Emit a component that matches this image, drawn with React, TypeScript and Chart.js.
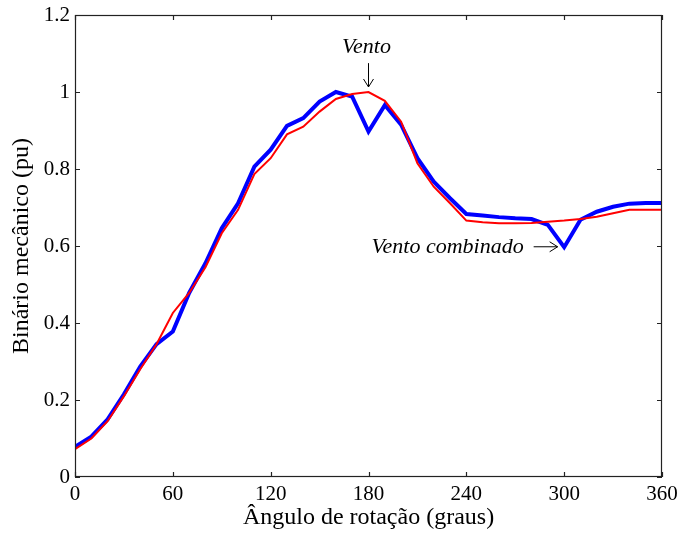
import React, { useEffect, useRef } from "react";
import { Chart, registerables } from "chart.js";

Chart.register(...registerables);

const angles = [0, 10, 20, 30, 40, 50, 60, 70, 80, 90, 100, 110, 120, 130, 140, 150, 160, 170, 180, 190, 200, 210, 220, 230, 240, 250, 260, 270, 280, 290, 300, 310, 320, 330, 340, 350, 360];
const combinado = [0.078, 0.105, 0.15, 0.215, 0.287, 0.345, 0.378, 0.478, 0.555, 0.646, 0.711, 0.806, 0.85, 0.912, 0.932, 0.975, 1.0, 0.988, 0.897, 0.966, 0.915, 0.828, 0.767, 0.724, 0.683, 0.679, 0.675, 0.672, 0.67, 0.655, 0.597, 0.668, 0.689, 0.702, 0.71, 0.712, 0.712];
const vento = [0.072, 0.1, 0.145, 0.21, 0.28, 0.345, 0.426, 0.478, 0.545, 0.633, 0.694, 0.787, 0.828, 0.89, 0.91, 0.949, 0.982, 0.995, 1.0, 0.977, 0.923, 0.815, 0.754, 0.711, 0.666, 0.662, 0.659, 0.659, 0.66, 0.663, 0.666, 0.67, 0.676, 0.685, 0.694, 0.694, 0.694];
const xTicks = [0, 60, 120, 180, 240, 300, 360];
const yTicks = [0, 0.2, 0.4, 0.6, 0.8, 1.0, 1.2];

const FONT = "'Liberation Serif', 'DejaVu Serif', serif";

const boxPlugin = {
  id: "boxTicks",
  afterDraw(chart: any) {
    const { ctx, chartArea: a, scales } = chart;
    const x = scales.x, y = scales.y;
    ctx.save();
    ctx.strokeStyle = "#222";
    ctx.lineWidth = 1.2;
    ctx.strokeRect(a.left + 0.5, a.top + 0.5, a.right - a.left - 1, a.bottom - a.top - 1);
    const L = 5;
    ctx.beginPath();
    for (const t of xTicks) {
      const px = Math.round(x.getPixelForValue(t)) + 0.5;
      ctx.moveTo(px, a.bottom); ctx.lineTo(px, a.bottom - L);
      ctx.moveTo(px, a.top); ctx.lineTo(px, a.top + L);
    }
    for (const t of yTicks) {
      const py = Math.round(y.getPixelForValue(t)) + 0.5;
      ctx.moveTo(a.left, py); ctx.lineTo(a.left + L, py);
      ctx.moveTo(a.right, py); ctx.lineTo(a.right - L, py);
    }
    ctx.stroke();

    // annotations
    ctx.fillStyle = "#000";
    ctx.strokeStyle = "#000";
    ctx.lineWidth = 1;
    ctx.font = "italic 22px " + FONT;
    const vx = x.getPixelForValue(180);
    ctx.textAlign = "center";
    ctx.textBaseline = "middle";
    ctx.fillText("Vento", vx - 2, y.getPixelForValue(1.117));
    const ay0 = y.getPixelForValue(1.075), ay1 = y.getPixelForValue(1.013);
    ctx.beginPath();
    ctx.moveTo(vx, ay0); ctx.lineTo(vx, ay1);
    ctx.moveTo(vx - 5, ay1 - 8); ctx.lineTo(vx, ay1); ctx.lineTo(vx + 5, ay1 - 8);
    ctx.stroke();
    const cy = y.getPixelForValue(0.598);
    const tip = x.getPixelForValue(296);
    ctx.textAlign = "right";
    ctx.fillText("Vento combinado", tip - 34, cy);
    ctx.beginPath();
    ctx.moveTo(tip - 24, cy); ctx.lineTo(tip, cy);
    ctx.moveTo(tip - 8, cy - 5); ctx.lineTo(tip, cy); ctx.lineTo(tip - 8, cy + 5);
    ctx.stroke();
    ctx.restore();
  },
};

export default function App() {
  const ref = useRef<HTMLCanvasElement>(null);
  useEffect(() => {
    if (!ref.current) return;
    const chart = new Chart(ref.current, {
      type: "line",
      data: {
        datasets: [
          {
            label: "Vento",
            data: angles.map((a, i) => ({ x: a, y: vento[i] })),
            borderColor: "#ff0000",
            borderWidth: 2,
            pointRadius: 0,
            tension: 0,
            fill: false,
          },
          {
            label: "Vento combinado",
            data: angles.map((a, i) => ({ x: a, y: combinado[i] })),
            borderColor: "#0000ff",
            borderWidth: 4,
            pointRadius: 0,
            tension: 0,
            fill: false,
          },
        ],
      },
      options: {
        responsive: false,
        animation: false,
        layout: { padding: { left: 0, top: 15, right: 16, bottom: 0 } },
        plugins: { legend: { display: false }, tooltip: { enabled: false } },
        scales: {
          x: {
            type: "linear",
            min: 0,
            max: 360,
            afterBuildTicks: (s: any) => { s.ticks = xTicks.map((v) => ({ value: v })); },
            grid: { display: false, drawTicks: false },
            border: { display: false },
            ticks: { color: "#000", font: { family: FONT, size: 21 }, padding: 5, maxRotation: 0, callback: (v: any) => String(v) },
            title: { display: true, text: "Ângulo de rotação (graus)", color: "#000", font: { family: FONT, size: 24 }, padding: { top: 0, bottom: 1 } },
            afterFit: (s: any) => { s.height = 56; s.paddingLeft = 0; s.paddingRight = 0; },
          },
          y: {
            type: "linear",
            min: 0,
            max: 1.2,
            afterBuildTicks: (s: any) => { s.ticks = yTicks.map((v) => ({ value: v })); },
            grid: { display: false, drawTicks: false },
            border: { display: false },
            ticks: { color: "#000", font: { family: FONT, size: 21 }, padding: 5, callback: (v: any) => String(+Number(v).toFixed(1)) },
            title: { display: true, text: "Binário mecânico (pu)", color: "#000", font: { family: FONT, size: 24 }, padding: { top: 7, bottom: 0 } },
            afterFit: (s: any) => { s.width = 75; s.paddingTop = 0; s.paddingBottom = 0; },
          },
        },
      },
      plugins: [boxPlugin],
    });
    return () => chart.destroy();
  }, []);
  return (
    <div style={{ position: "absolute", left: 0, top: 0, width: 678, height: 533, background: "#fff" }}>
      <canvas ref={ref} width={678} height={533} style={{ width: 678, height: 533 }} />
    </div>
  );
}
